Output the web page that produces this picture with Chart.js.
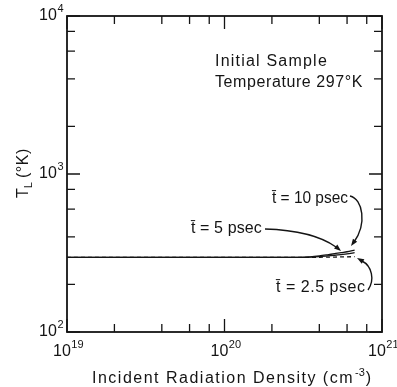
<!DOCTYPE html>
<html>
<head>
<meta charset="utf-8">
<script src="https://cdn.jsdelivr.net/npm/chart.js@4/dist/chart.umd.min.js"></script>
<style>
  html, body { margin: 0; padding: 0; background: #fff; }
  #wrap { width: 397px; height: 387px; }
</style>
</head>
<body>
<div id="wrap"><canvas id="chart"></canvas></div>
<script>
// ===== DATA =====
const density   = [1e19, 1e20, 2e20, 2.5e20, 3e20, 3.5e20, 4e20, 4.5e20, 5e20, 5.5e20, 6e20, 6.7e20];
const temp2p5ps = [297, 297, 297, 297, 297, 297, 297, 298, 298, 299, 299, 300];
const temp5ps   = [297, 297, 297, 297, 297, 298, 300, 303, 306, 309, 312, 318];
const temp10ps  = [297, 297, 297, 297, 297, 299, 303, 308, 313, 318, 322, 330];

const xDecades = [19, 20, 21];
const yDecades = [2, 3, 4];
const minorSteps = [2, 4, 6, 8];

const ink = "#141414";
const FONT = "'Liberation Sans', Arial, sans-serif";

function pts(ys) {
  return density.map((x, i) => ({ x: x, y: ys[i] }));
}

// text squeezed/stretched to the width it has in the figure
function fitText(ctx, str, x, y, size, width) {
  ctx.font = size + "px " + FONT;
  ctx.letterSpacing = "0px";
  const w = ctx.measureText(str).width;
  if (width && w < width) {
    ctx.letterSpacing = ((width - w) / str.length).toFixed(2) + "px";
    ctx.fillText(str, x, y);
  } else if (width) {
    ctx.fillText(str, x, y, width);
  } else {
    ctx.fillText(str, x, y);
  }
  ctx.letterSpacing = "0px";
}

function powLabel(ctx, exp, cx, cy, alignRight) {
  ctx.font = "16px " + FONT;
  const wb = ctx.measureText("10").width;
  ctx.font = "11px " + FONT;
  const we = ctx.measureText(String(exp)).width;
  const left = alignRight ? cx - wb - we : cx - (wb + we) / 2;
  ctx.textBaseline = "middle";
  ctx.font = "16px " + FONT;
  ctx.fillText("10", left, cy);
  ctx.font = "11px " + FONT;
  ctx.fillText(String(exp), left + wb + 0.5, cy - 7);
}

function arrowHead(ctx, tx, ty, fx, fy) {
  const ang = Math.atan2(ty - fy, tx - fx);
  const len = 7, half = 2.6;
  ctx.beginPath();
  ctx.moveTo(tx, ty);
  ctx.lineTo(tx - len * Math.cos(ang) + half * Math.sin(ang), ty - len * Math.sin(ang) - half * Math.cos(ang));
  ctx.lineTo(tx - len * Math.cos(ang) - half * Math.sin(ang), ty - len * Math.sin(ang) + half * Math.cos(ang));
  ctx.closePath();
  ctx.fill();
}

// ===== FRAME, TICKS, LABELS, NOTES =====
const paperPlugin = {
  id: "paper",
  afterDraw(chart) {
    const { ctx, chartArea: a, scales: { x, y } } = chart;
    ctx.save();
    ctx.strokeStyle = ink;
    ctx.fillStyle = ink;

    // frame
    ctx.lineWidth = 1.8;
    ctx.strokeRect(a.left, a.top, a.right - a.left, a.bottom - a.top);

    // inward ticks on all four sides
    ctx.lineWidth = 1.3;
    ctx.beginPath();
    xDecades.forEach((d, i) => {
      const px = x.getPixelForValue(Math.pow(10, d));
      ctx.moveTo(px, a.bottom); ctx.lineTo(px, a.bottom - 13);
      ctx.moveTo(px, a.top); ctx.lineTo(px, a.top + 13);
      if (i < xDecades.length - 1) {
        minorSteps.forEach(m => {
          const mx = x.getPixelForValue(m * Math.pow(10, d));
          ctx.moveTo(mx, a.bottom); ctx.lineTo(mx, a.bottom - 8);
          ctx.moveTo(mx, a.top); ctx.lineTo(mx, a.top + 8);
        });
      }
    });
    yDecades.forEach((d, i) => {
      const py = y.getPixelForValue(Math.pow(10, d));
      ctx.moveTo(a.left, py); ctx.lineTo(a.left + 13, py);
      ctx.moveTo(a.right, py); ctx.lineTo(a.right - 13, py);
      if (i < yDecades.length - 1) {
        minorSteps.forEach(m => {
          const my = y.getPixelForValue(m * Math.pow(10, d));
          ctx.moveTo(a.left, my); ctx.lineTo(a.left + 8, my);
          ctx.moveTo(a.right, my); ctx.lineTo(a.right - 8, my);
        });
      }
    });
    ctx.stroke();

    // tick labels
    xDecades.forEach(d => {
      powLabel(ctx, d, x.getPixelForValue(Math.pow(10, d)) + 1, a.bottom + 20, false);
    });
    yDecades.forEach(d => {
      powLabel(ctx, d, a.left - 4, y.getPixelForValue(Math.pow(10, d)), true);
    });

    // axis titles
    ctx.textBaseline = "alphabetic";
    let xl = 92;
    fitText(ctx, "Incident Radiation Density (cm", xl, 383, 16, 262);
    xl += 262 + 1;
    ctx.font = "11px " + FONT;
    ctx.fillText("-3", xl, 376);
    xl += ctx.measureText("-3").width + 1;
    ctx.font = "16px " + FONT;
    ctx.fillText(")", xl, 383);

    ctx.save();
    ctx.translate(28, 198);
    ctx.rotate(-Math.PI / 2);
    ctx.font = "16px " + FONT;
    ctx.fillText("T", 0, 0);
    let tw = ctx.measureText("T").width;
    ctx.font = "11px " + FONT;
    ctx.fillText("L", tw, 4);
    tw += ctx.measureText("L").width + 4;
    fitText(ctx, "(°K)", tw, 0, 16, 30);
    ctx.restore();

    // notes
    fitText(ctx, "Initial Sample", 215, 66, 16, 113);
    fitText(ctx, "Temperature 297°K", 215, 87, 16, 148);
    fitText(ctx, "t\u0304 = 10 psec", 272, 203, 16, 76);
    fitText(ctx, "t\u0304 = 5 psec", 191, 233, 16, 71);
    fitText(ctx, "t\u0304 = 2.5 psec", 276, 292, 16, 90);

    // arrows from the notes to the curves
    ctx.lineWidth = 1.4;
    ctx.beginPath();
    ctx.moveTo(350, 196);
    ctx.bezierCurveTo(363, 199, 367, 224, 354, 242);
    ctx.stroke();
    arrowHead(ctx, 351, 246, 356, 239);

    ctx.beginPath();
    ctx.moveTo(265, 229);
    ctx.bezierCurveTo(298, 230, 322, 237, 336, 247);
    ctx.stroke();
    arrowHead(ctx, 341, 251, 334, 245);

    ctx.beginPath();
    ctx.moveTo(368, 290);
    ctx.bezierCurveTo(375, 280, 372, 266, 362, 261);
    ctx.stroke();
    arrowHead(ctx, 357, 258, 364, 262);

    ctx.restore();
  }
};

// ===== CHART =====
const lineStyle = { borderColor: ink, borderWidth: 1.3, pointRadius: 0, fill: false, tension: 0.3 };

new Chart(document.getElementById("chart"), {
  type: "line",
  data: {
    datasets: [
      Object.assign({ label: "10 psec", data: pts(temp10ps) }, lineStyle),
      Object.assign({ label: "5 psec", data: pts(temp5ps) }, lineStyle),
      Object.assign({ label: "2.5 psec", data: pts(temp2p5ps), borderDash: [4, 3] }, lineStyle)
    ]
  },
  options: {
    responsive: true,
    maintainAspectRatio: false,
    animation: false,
    layout: { padding: { left: 67, top: 16, right: 15, bottom: 55 } },
    plugins: { legend: { display: false }, tooltip: { enabled: false } },
    scales: {
      x: { type: "logarithmic", min: 1e19, max: 1e21, display: false },
      y: { type: "logarithmic", min: 1e2, max: 1e4, display: false }
    }
  },
  plugins: [paperPlugin]
});
</script>
</body>
</html>
